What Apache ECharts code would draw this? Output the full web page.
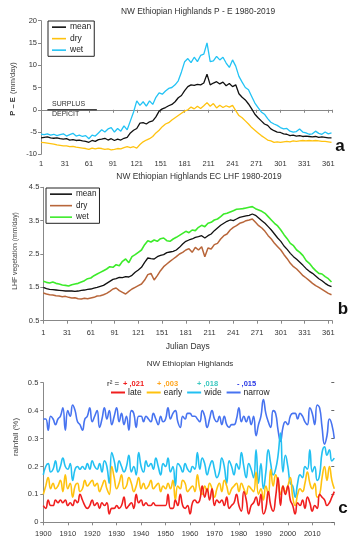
<!DOCTYPE html>
<html><head><meta charset="utf-8">
<script src="https://cdn.jsdelivr.net/npm/echarts@6/dist/echarts.min.js"></script>
<style>html,body{margin:0;padding:0;background:#fff}#c{width:361px;height:550px}</style>
</head><body><div id="c"></div>
<script>
// ---------- Panel a: P - E (mm/day), every 4th Julian day ----------
const dayStep = 4;
const daysA = []; for (let d = 1; d <= 365; d += dayStep) daysA.push(d);
const peMean = [-6.3,-6.2,-6.1,-6.3,-6.4,-6.3,-6.5,-6.6,-6.5,-6.8,-6.7,-6.9,-6.8,-7.0,-7.1,-7.3,-6.9,-7.1,-6.7,-6.6,-6.4,-6.8,-6.5,-6.9,-6.6,-6.8,-6.4,-6.2,-5.2,-4.6,-4.2,-3.0,-2.9,-3.2,-2.7,-2.5,-1.6,-0.3,0.2,0.5,0.9,1.2,1.8,2.7,3.2,4.3,5.2,5.6,5.5,5.7,5.6,6.0,8.0,5.6,6.0,6.3,5.8,6.2,5.4,5.9,5.2,5.6,3.6,2.8,2.2,1.3,0.2,-1.0,-1.8,-2.5,-3.2,-3.5,-4.3,-4.7,-5.0,-5.1,-5.4,-5.5,-5.8,-5.7,-5.9,-5.8,-6.0,-5.9,-6.0,-6.1,-6.0,-6.2,-6.1,-6.2,-6.3,-6.3];
const peDry = [-7.3,-7.4,-7.5,-7.6,-7.7,-7.9,-8.0,-8.1,-8.1,-8.3,-8.2,-8.4,-8.5,-8.6,-8.7,-8.9,-8.6,-8.8,-8.6,-8.7,-8.9,-8.8,-9.0,-8.9,-8.7,-8.8,-8.5,-8.3,-8.5,-8.3,-8.6,-7.8,-7.2,-6.8,-6.5,-6.0,-5.2,-4.6,-3.8,-3.2,-2.9,-2.3,-1.8,-1.3,-0.8,-0.3,0.0,0.6,0.2,0.8,0.3,0.9,1.6,0.8,1.4,0.4,1.0,0.5,0.9,0.6,1.0,-0.2,-1.3,-1.8,-2.5,-3.2,-4.0,-4.6,-5.2,-5.8,-6.3,-6.8,-7.0,-7.3,-7.2,-7.3,-7.2,-7.1,-7.2,-7.0,-7.1,-7.0,-6.9,-7.0,-6.9,-7.0,-6.9,-7.0,-7.1,-7.1,-7.2,-7.3];
const peWet = [-5.5,-5.6,-5.4,-5.7,-5.5,-5.8,-5.6,-5.4,-5.9,-5.6,-5.3,-5.9,-5.7,-6.0,-5.8,-6.5,-5.7,-5.9,-5.2,-4.5,-5.0,-4.3,-4.0,-5.0,-4.2,-4.8,-3.6,-4.5,-2.5,-0.5,2.0,1.0,1.8,0.8,2.0,1.2,2.8,3.8,3.5,4.2,4.8,5.0,5.6,6.5,8.5,10.8,11.5,10.6,11.8,10.8,12.2,12.5,15.0,10.8,11.0,12.0,11.2,11.8,10.5,9.5,11.2,9.8,7.5,6.2,5.0,4.5,3.0,1.5,0.5,-0.5,-1.0,-2.0,-2.8,-3.2,-3.5,-4.0,-4.3,-4.2,-4.8,-5.0,-4.9,-4.3,-5.0,-5.2,-5.5,-5.4,-4.8,-5.3,-5.5,-5.0,-5.4,-5.2];
// ---------- Panel b: LHF vegetation (mm/day) ----------
const lhfMean = [1.50,1.46,1.44,1.43,1.42,1.41,1.40,1.39,1.39,1.39,1.38,1.39,1.41,1.42,1.44,1.45,1.48,1.50,1.53,1.56,1.62,1.68,1.74,1.76,1.80,1.79,1.82,1.81,1.86,1.95,2.02,2.10,2.25,2.38,2.36,2.35,2.42,2.46,2.48,2.54,2.56,2.58,2.62,2.70,2.80,2.88,2.92,2.95,3.00,3.02,3.05,2.98,3.05,3.10,3.20,3.28,3.36,3.42,3.48,3.52,3.50,3.55,3.60,3.62,3.64,3.66,3.70,3.66,3.58,3.50,3.42,3.32,3.22,3.10,2.98,2.88,2.74,2.64,2.52,2.42,2.34,2.25,2.16,2.06,1.98,1.92,1.84,1.76,1.70,1.62,1.56,1.52];
const lhfDry = [1.33,1.30,1.28,1.27,1.25,1.24,1.22,1.23,1.20,1.18,1.19,1.16,1.15,1.17,1.16,1.18,1.20,1.24,1.25,1.28,1.32,1.38,1.45,1.48,1.40,1.35,1.30,1.38,1.45,1.50,1.55,1.60,1.72,1.88,1.92,1.72,1.85,2.00,2.12,2.20,2.28,2.35,2.42,2.50,2.55,2.62,2.66,2.55,2.70,2.62,2.72,2.42,2.68,2.65,2.78,2.82,2.95,3.05,3.10,3.22,3.30,3.35,3.42,3.45,3.50,3.52,3.55,3.45,3.35,3.28,3.18,3.05,2.95,2.82,2.72,2.62,2.48,2.36,2.22,2.12,2.05,1.95,1.85,1.78,1.70,1.62,1.55,1.50,1.44,1.38,1.32,1.28];
const lhfWet = [1.68,1.65,1.63,1.66,1.62,1.60,1.57,1.56,1.54,1.58,1.60,1.62,1.66,1.70,1.76,1.78,1.85,1.90,1.95,2.00,2.05,2.12,2.10,2.18,2.15,2.28,2.35,2.24,2.42,2.48,2.55,2.62,2.78,2.90,2.86,2.92,2.88,2.96,2.98,2.90,2.88,2.95,3.00,3.06,3.12,3.18,3.14,3.22,3.20,3.30,3.36,3.32,3.42,3.45,3.52,3.55,3.62,3.70,3.72,3.76,3.80,3.84,3.85,3.86,3.88,3.90,3.92,3.86,3.82,3.78,3.72,3.62,3.52,3.42,3.34,3.22,3.08,2.96,2.82,2.75,2.62,2.55,2.45,2.30,2.22,2.10,2.00,1.92,1.90,1.82,1.76,1.66];
// ---------- Panel c: rainfall (%) 1900-2019 ----------
const firstYear = 1900, lastYear = 2019;
const years = []; for (let y = firstYear; y <= lastYear; y++) years.push(y);
const late = [0.06,0.05,0.08,0.06,0.06,0.08,0.07,0.08,0.07,0.08,0.06,0.07,0.06,0.08,0.07,0.10,0.08,0.06,0.05,0.06,0.08,0.06,0.07,0.05,0.07,0.06,0.07,0.03,0.05,0.05,0.06,0.05,0.06,0.09,0.05,0.06,0.07,0.05,0.10,0.07,0.08,0.06,0.07,0.06,0.06,0.07,0.06,0.06,0.06,0.06,0.06,0.10,0.05,0.05,0.08,0.06,0.10,0.06,0.05,0.06,0.03,0.07,0.08,0.07,0.08,0.13,0.09,0.12,0.08,0.12,0.06,0.08,0.07,0.08,0.06,0.09,0.05,0.06,0.07,0.10,0.06,0.04,0.11,0.08,0.03,0.06,0.07,0.09,0.06,0.10,0.03,0.05,0.11,0.06,0.04,0.09,0.16,0.06,0.13,0.10,0.13,0.08,0.06,0.03,0.07,0.06,0.08,0.05,0.09,0.07,0.04,0.06,0.05,0.10,0.09,0.08,0.06,0.07,0.09,0.11];
const early = [0.10,0.13,0.16,0.12,0.14,0.12,0.13,0.15,0.11,0.17,0.12,0.14,0.09,0.13,0.14,0.11,0.12,0.15,0.13,0.14,0.15,0.13,0.14,0.11,0.13,0.15,0.12,0.10,0.20,0.16,0.12,0.14,0.17,0.12,0.13,0.16,0.14,0.11,0.13,0.16,0.12,0.14,0.12,0.13,0.15,0.12,0.13,0.14,0.11,0.13,0.12,0.14,0.12,0.15,0.08,0.13,0.12,0.15,0.14,0.11,0.12,0.13,0.11,0.17,0.12,0.10,0.13,0.11,0.14,0.12,0.09,0.12,0.14,0.11,0.15,0.13,0.10,0.12,0.13,0.14,0.11,0.14,0.12,0.10,0.13,0.12,0.11,0.18,0.10,0.12,0.08,0.13,0.10,0.19,0.13,0.17,0.14,0.10,0.13,0.11,0.13,0.16,0.09,0.06,0.10,0.12,0.11,0.14,0.18,0.14,0.12,0.14,0.09,0.10,0.16,0.20,0.15,0.20,0.15,0.12];
const wide = [0.17,0.20,0.21,0.18,0.19,0.22,0.18,0.20,0.23,0.20,0.19,0.21,0.15,0.19,0.20,0.19,0.20,0.19,0.21,0.19,0.22,0.20,0.19,0.21,0.18,0.22,0.20,0.14,0.25,0.22,0.18,0.22,0.20,0.18,0.20,0.24,0.18,0.20,0.17,0.25,0.20,0.18,0.22,0.20,0.21,0.19,0.23,0.20,0.17,0.21,0.20,0.23,0.18,0.20,0.13,0.21,0.20,0.18,0.21,0.19,0.18,0.20,0.19,0.25,0.19,0.23,0.21,0.17,0.20,0.22,0.19,0.16,0.18,0.23,0.20,0.14,0.22,0.20,0.17,0.21,0.19,0.25,0.20,0.16,0.21,0.19,0.16,0.26,0.14,0.21,0.12,0.18,0.26,0.21,0.17,0.19,0.24,0.32,0.18,0.24,0.20,0.14,0.13,0.09,0.14,0.17,0.16,0.20,0.19,0.26,0.18,0.20,0.15,0.17,0.25,0.27,0.24,0.26,0.22,0.23];
const narrow = [0.37,0.37,0.33,0.38,0.37,0.35,0.37,0.38,0.41,0.33,0.40,0.38,0.42,0.40,0.36,0.35,0.33,0.37,0.38,0.41,0.36,0.38,0.40,0.34,0.37,0.41,0.37,0.40,0.35,0.38,0.41,0.36,0.39,0.35,0.38,0.33,0.40,0.39,0.34,0.38,0.38,0.36,0.38,0.37,0.36,0.39,0.37,0.35,0.38,0.36,0.37,0.41,0.37,0.39,0.40,0.36,0.34,0.38,0.37,0.39,0.39,0.38,0.38,0.37,0.36,0.40,0.38,0.34,0.37,0.40,0.37,0.36,0.38,0.35,0.38,0.35,0.34,0.35,0.35,0.37,0.41,0.36,0.38,0.36,0.38,0.35,0.38,0.31,0.35,0.38,0.44,0.39,0.36,0.34,0.40,0.39,0.33,0.29,0.34,0.36,0.35,0.38,0.39,0.39,0.37,0.39,0.38,0.36,0.35,0.41,0.39,0.35,0.42,0.41,0.34,0.28,0.31,0.37,0.35,0.30];
const r2Labels = ['+ ,021', '+ ,003', '+ ,018', '- ,015'];
// SURPLUS / DEFICIT marker: zero line between these days
const surplusFrom = 9, surplusTo = 71, surplusLevel = 0;

const FONT = 'Liberation Sans, Arial, sans-serif';
const pair = (xs, vs) => xs.map((x, i) => [x, vs[i]]);

const axisLineStyle = { lineStyle: { color: '#888', width: 1 } };
const tickStyle = { show: true, length: 3, lineStyle: { color: '#888' } };
const lbl = (extra) => Object.assign({ color: '#333', fontSize: 7.5, fontFamily: FONT, margin: 5 }, extra || {});

function dayAxis(gi, margin) {
  return { gridIndex: gi, type: 'value', min: 1, max: 366, interval: 30,
    axisLine: axisLineStyle, axisTick: tickStyle, splitLine: { show: false },
    axisLabel: lbl({ margin, formatter: v => ((v - 1) % 30 === 0 && v <= 361) ? String(v) : '' }) };
}

function lineSeries(name, xi, yi, data, color, width, smooth) {
  return { name, type: 'line', xAxisIndex: xi, yAxisIndex: yi, data, symbol: 'none',
    smooth: !!smooth, lineStyle: { color, width }, itemStyle: { color }, animation: false, z: 3 };
}

const legendBase = { orient: 'vertical', borderColor: '#222', borderWidth: 1, borderRadius: 0,
  icon: 'rect', itemWidth: 14, itemHeight: 1.6, itemGap: 1.2, padding: [1, 3, 1, 4],
  textStyle: { fontSize: 8.5, color: '#222', fontFamily: FONT, padding: [0, 0, 0, -1], lineHeight: 10.3 },
  formatter: n => n.split('|')[1], selectedMode: false };

const chart = echarts.init(document.getElementById('c'), null, { renderer: 'canvas' });

const T = (x, y, text, fill, font, extra) => Object.assign({ type: 'text', x, y,
  style: { text, fill, font: font + ' ' + FONT, textAlign: 'center', textVerticalAlign: 'middle' } }, extra || {});

const baseGraphics = [
  T(198, 12, 'NW Ethiopian Highlands P - E 1980-2019', '#333', '8.4px'),
  T(199, 177, 'NW Ethiopian Highlands EC LHF 1980-2019', '#333', '8.4px'),
  T(190, 364, 'NW Ethiopian Highlands', '#333', '8px'),
  { type: 'text', x: 13, y: 89, rotation: Math.PI / 2, style: { text: '{b|P – E} {n|(mm/day)}', textAlign: 'center', textVerticalAlign: 'middle',
      rich: { b: { fontWeight: 'bold', fontSize: 7.5, fill: '#333', fontFamily: FONT }, n: { fontSize: 7.5, fill: '#444', fontFamily: FONT } } } },
  T(15, 251, 'LHF vegetation (mm/day)', '#444', '6.9px', { rotation: Math.PI / 2 }),
  T(16, 437, 'rainfall (%)', '#444', '8px', { rotation: Math.PI / 2 }),
  { type: 'text', x: 52, y: 104, style: { text: 'SURPLUS', fill: '#333', font: '7px ' + FONT, textAlign: 'left', textVerticalAlign: 'middle' } },
  { type: 'text', x: 52, y: 114, style: { text: 'DEFICIT', fill: '#333', font: '7px ' + FONT, textAlign: 'left', textVerticalAlign: 'middle' } },
  T(340, 146, 'a', '#111', 'bold 17px'),
  T(343, 309, 'b', '#111', 'bold 17px'),
  T(343, 508, 'c', '#111', 'bold 17px'),
  { type: 'text', x: 107, y: 384, style: { text: 'r² =', fill: '#222', font: '8px ' + FONT, textAlign: 'left', textVerticalAlign: 'middle' } },
  { type: 'text', x: 123, y: 384, style: { text: r2Labels[0], fill: '#F01E1E', font: 'bold 7.5px ' + FONT, textAlign: 'left', textVerticalAlign: 'middle' } },
  { type: 'text', x: 157, y: 384, style: { text: r2Labels[1], fill: '#FFA51E', font: 'bold 7.5px ' + FONT, textAlign: 'left', textVerticalAlign: 'middle' } },
  { type: 'text', x: 197, y: 384, style: { text: r2Labels[2], fill: '#3CC8C0', font: 'bold 7.5px ' + FONT, textAlign: 'left', textVerticalAlign: 'middle' } },
  { type: 'text', x: 237, y: 384, style: { text: r2Labels[3], fill: '#2838E6', font: 'bold 7.5px ' + FONT, textAlign: 'left', textVerticalAlign: 'middle' } }
];

const option = {
  backgroundColor: '#fff',
  animation: false,
  textStyle: { fontFamily: FONT },
  grid: [
    { left: 41, top: 20.7, width: 291.3, height: 133.6 },
    { left: 43.3, top: 187.3, width: 289, height: 133.4 },
    { left: 43.3, top: 382.7, width: 291, height: 139.6 }
  ],
  xAxis: [
    dayAxis(0, 6),
    Object.assign(dayAxis(1, 8), { name: 'Julian Days', nameLocation: 'middle', nameGap: 21,
      nameTextStyle: { fontSize: 8.5, color: '#333', fontFamily: FONT } }),
    { gridIndex: 2, type: 'value', min: firstYear, max: lastYear, interval: 10,
      axisLine: axisLineStyle, axisTick: tickStyle, splitLine: { show: false },
      axisLabel: lbl({ margin: 8, formatter: v => (v % 10 === 0) ? String(v) : '' }) }
  ],
  yAxis: [
    { gridIndex: 0, type: 'value', min: -10, max: 20, interval: 5,
      axisLine: Object.assign({ show: true }, axisLineStyle), axisTick: tickStyle, splitLine: { show: false },
      axisLabel: lbl({ margin: 4 }) },
    { gridIndex: 1, type: 'value', min: 0.5, max: 4.5, interval: 1,
      axisLine: Object.assign({ show: true }, axisLineStyle), axisTick: tickStyle, splitLine: { show: false },
      axisLabel: lbl({ margin: 4, formatter: v => v.toFixed(1) }) },
    { gridIndex: 2, type: 'value', min: 0, max: 0.5, interval: 0.1,
      axisLine: Object.assign({ show: true }, axisLineStyle), axisTick: tickStyle, splitLine: { show: false },
      axisLabel: lbl({ margin: 5, formatter: v => v === 0 ? '0' : v.toFixed(1) }) },
    { gridIndex: 2, type: 'value', min: 0, max: 0.5, interval: 0.1, position: 'right',
      axisLine: { show: false }, axisTick: { show: true, inside: true, length: 3, lineStyle: { color: '#666' } },
      splitLine: { show: false }, axisLabel: { show: false } }
  ],
  legend: [
    Object.assign({}, legendBase, { left: 48, top: 21, data: ['a|mean', 'a|dry', 'a|wet'] }),
    Object.assign({}, legendBase, { left: 46, top: 188, itemWidth: 22, textStyle: Object.assign({}, legendBase.textStyle, { fontSize: 8.2 }), data: ['b|mean', 'b|dry', 'b|wet'] }),
    { orient: 'horizontal', left: 111, top: 388, icon: 'rect', itemWidth: 14, itemHeight: 2, itemGap: 5, padding: 0,
      selectedMode: false, formatter: n => n.split('|')[1],
      textStyle: { fontSize: 8.5, color: '#222', fontFamily: FONT, padding: [0, 0, 0, -2] },
      data: ['c|late', 'c|early', 'c|wide', 'c|narrow'] }
  ],
  series: [
    lineSeries('a|wet', 0, 0, pair(daysA, peWet), '#22C3F5', 1.3),
    lineSeries('a|dry', 0, 0, pair(daysA, peDry), '#FFC20E', 1.3),
    lineSeries('a|mean', 0, 0, pair(daysA, peMean), '#111', 1.3),
    lineSeries('b|wet', 1, 1, pair(daysA, lhfWet), '#3CEB2A', 1.6),
    lineSeries('b|dry', 1, 1, pair(daysA, lhfDry), '#B8663A', 1.5),
    lineSeries('b|mean', 1, 1, pair(daysA, lhfMean), '#111', 1.3),
    lineSeries('c|narrow', 2, 2, pair(years, narrow), '#4773F0', 1.6, 0.4),
    lineSeries('c|wide', 2, 2, pair(years, wide), '#22C0F2', 1.6, 0.4),
    lineSeries('c|early', 2, 2, pair(years, early), '#FFC20E', 1.6, 0.4),
    lineSeries('c|late', 2, 2, pair(years, late), '#F01E1E', 1.6, 0.4)
  ],
  graphic: baseGraphics
};
chart.setOption(option);

// zero (surplus/deficit) marker placed through the panel-a scales
const pA = chart.convertToPixel({ xAxisIndex: 0, yAxisIndex: 0 }, [surplusFrom, surplusLevel]);
const pB = chart.convertToPixel({ xAxisIndex: 0, yAxisIndex: 0 }, [surplusTo, surplusLevel]);
chart.setOption({ graphic: baseGraphics.concat([
  { type: 'line', z: 10, shape: { x1: pA[0], y1: pA[1], x2: pB[0], y2: pB[1] }, style: { stroke: '#444', lineWidth: 1.5 } }
]) });
</script></body></html>
